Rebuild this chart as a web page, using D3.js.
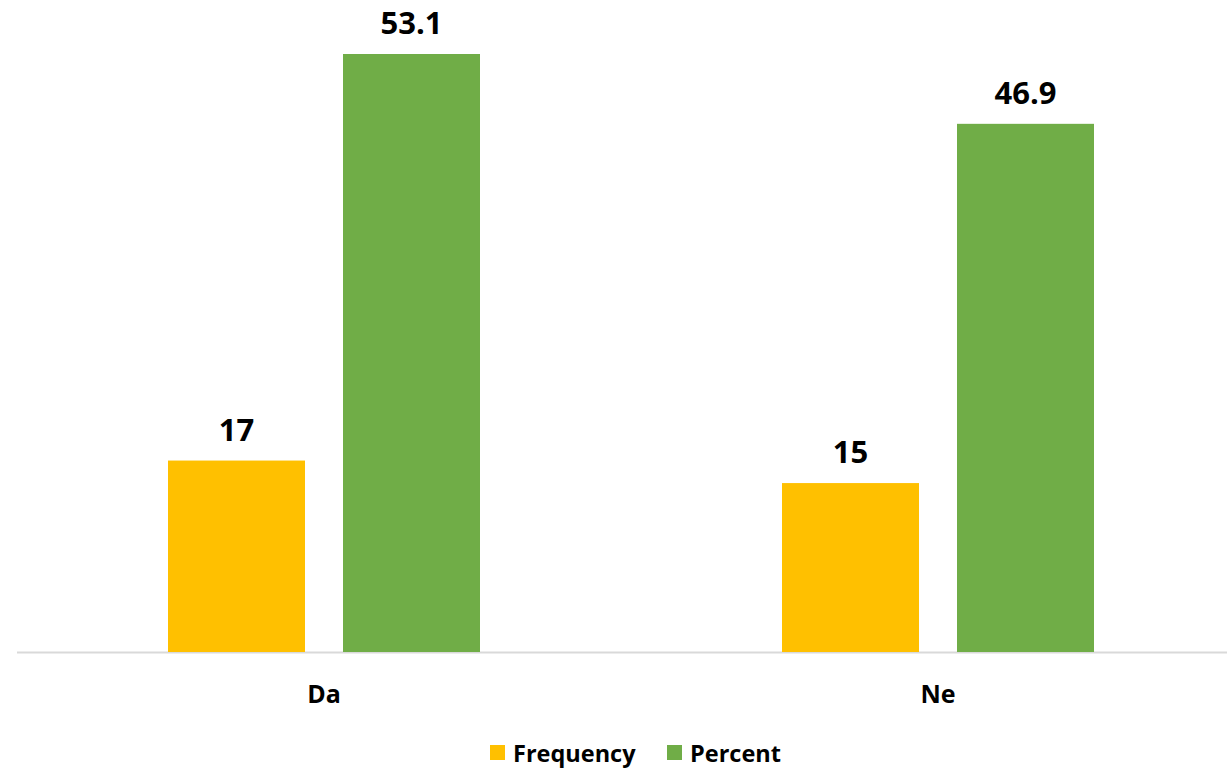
<!DOCTYPE html>
<html><head><meta charset="utf-8">
<script src="https://cdn.jsdelivr.net/npm/d3@7/dist/d3.min.js"></script>
<style>body{margin:0;background:#fff;} text{font-family:"Open Sans", Lato, sans-serif;font-weight:bold;fill:#000;}</style>
</head><body><svg id="c" width="1227" height="770"></svg>
<script>
const categories = ["Da", "Ne"];
const seriesNames = ["Frequency", "Percent"];
const frequency = [17, 15];
const percent = [53.1, 46.9];
const colors = ["#FFC000", "#70AD47"];

const svg = d3.select("#c");
const baseY = 652;
const pxPerUnit = 598 / 53.1;
const y = d3.scaleLinear().domain([0, 60]).range([baseY, baseY - 60 * pxPerUnit]);
const x0 = d3.scaleBand().domain(categories).range([17, 1245]).paddingInner(0).paddingOuter(0);
const innerW = 137 * 2 + 38;
const x1 = d3.scaleBand().domain(seriesNames).range([0, innerW]).paddingInner(38 / 175).paddingOuter(0);

const data = categories.map((c, i) => ({cat: c, vals: [
  {s: seriesNames[0], v: frequency[i]},
  {s: seriesNames[1], v: percent[i]}
]}));

// axis line
svg.append("line").attr("x1", 17).attr("x2", 1227).attr("y1", baseY + 0.5).attr("y2", baseY + 0.5)
  .attr("stroke", "#D9D9D9").attr("stroke-width", 2);

const g = svg.selectAll("g.cat").data(data).enter().append("g")
  .attr("transform", d => `translate(${x0(d.cat) + (x0.bandwidth() - innerW) / 2},0)`);

g.selectAll("rect").data(d => d.vals).enter().append("rect")
  .attr("x", d => x1(d.s)).attr("width", x1.bandwidth())
  .attr("y", d => y(d.v)).attr("height", d => y(0) - y(d.v))
  .attr("fill", (d, i) => colors[i]);

g.selectAll("text.val").data(d => d.vals).enter().append("text")
  .attr("class", "val")
  .attr("x", d => x1(d.s) + x1.bandwidth() / 2)
  .attr("y", d => y(d.v) - 20)
  .attr("text-anchor", "middle").attr("font-size", 31)
  .text(d => d.v);

// category labels
const xAxis = d3.axisBottom(x0).tickSize(0).tickPadding(0);
const ax = svg.append("g").attr("transform", `translate(0,${baseY})`).call(xAxis);
ax.select(".domain").remove();
ax.selectAll("text").attr("dy", 0).attr("y", 51).attr("font-size", 25)
  .style("font-family", "'Open Sans', Lato, sans-serif").style("font-weight", "bold").attr("fill", "#000");

// legend
const legX = [490, 667];
const leg = svg.selectAll("g.leg").data(seriesNames).enter().append("g")
  .attr("transform", (d, i) => `translate(${legX[i]},745)`);
leg.append("rect").attr("width", 15).attr("height", 15).attr("fill", (d, i) => colors[i]);
leg.append("text").attr("x", 23).attr("y", 17).attr("font-size", 23.5).text(d => d);
</script></body></html>
